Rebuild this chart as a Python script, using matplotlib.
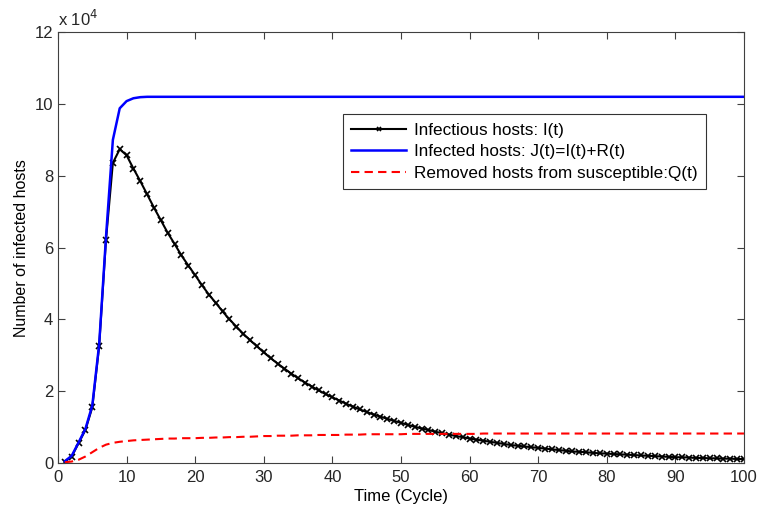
import matplotlib
matplotlib.use('Agg')
import matplotlib.pyplot as plt
import numpy as np

# values are in units of 10^4 hosts, one value per cycle t = 1..100
cycles = np.arange(1, 101)

infectious = [
    0.04, 0.18, 0.55, 0.92, 1.55, 3.25, 6.22, 8.36, 8.74, 8.57,
    8.20, 7.85, 7.48, 7.11, 6.76, 6.41, 6.10, 5.78, 5.50, 5.23,
    4.95, 4.69, 4.46, 4.22, 4.00, 3.80, 3.60, 3.42, 3.25, 3.08,
    2.92, 2.77, 2.63, 2.49, 2.36, 2.24, 2.13, 2.02, 1.92, 1.83,
    1.74, 1.65, 1.57, 1.49, 1.42, 1.35, 1.29, 1.23, 1.17, 1.12,
    1.06, 1.01, 0.96, 0.92, 0.87, 0.83, 0.79, 0.75, 0.72, 0.68,
    0.65, 0.62, 0.59, 0.56, 0.53, 0.50, 0.48, 0.46, 0.44, 0.42,
    0.40, 0.38, 0.36, 0.34, 0.32, 0.31, 0.30, 0.28, 0.27, 0.26,
    0.25, 0.24, 0.23, 0.22, 0.21, 0.20, 0.19, 0.18, 0.17, 0.16,
    0.16, 0.15, 0.14, 0.14, 0.13, 0.13, 0.12, 0.12, 0.11, 0.11,
]

infected = [
    0.05, 0.20, 0.57, 0.95, 1.60, 3.30, 6.30, 9.00, 9.88, 10.08,
    10.16, 10.19, 10.20, 10.20, 10.20, 10.20, 10.20, 10.20, 10.20, 10.20,
    10.20, 10.20, 10.20, 10.20, 10.20, 10.20, 10.20, 10.20, 10.20, 10.20,
    10.20, 10.20, 10.20, 10.20, 10.20, 10.20, 10.20, 10.20, 10.20, 10.20,
    10.20, 10.20, 10.20, 10.20, 10.20, 10.20, 10.20, 10.20, 10.20, 10.20,
    10.20, 10.20, 10.20, 10.20, 10.20, 10.20, 10.20, 10.20, 10.20, 10.20,
    10.20, 10.20, 10.20, 10.20, 10.20, 10.20, 10.20, 10.20, 10.20, 10.20,
    10.20, 10.20, 10.20, 10.20, 10.20, 10.20, 10.20, 10.20, 10.20, 10.20,
    10.20, 10.20, 10.20, 10.20, 10.20, 10.20, 10.20, 10.20, 10.20, 10.20,
    10.20, 10.20, 10.20, 10.20, 10.20, 10.20, 10.20, 10.20, 10.20, 10.20,
]

removed = [
    0.02, 0.04, 0.09, 0.18, 0.30, 0.42, 0.51, 0.56, 0.59, 0.61,
    0.63, 0.64, 0.65, 0.66, 0.67, 0.68, 0.68, 0.69, 0.69, 0.69,
    0.70, 0.70, 0.71, 0.71, 0.72, 0.72, 0.73, 0.73, 0.74, 0.75,
    0.75, 0.76, 0.76, 0.76, 0.77, 0.77, 0.77, 0.78, 0.78, 0.78,
    0.78, 0.79, 0.79, 0.79, 0.80, 0.80, 0.80, 0.80, 0.80, 0.80,
    0.81, 0.81, 0.81, 0.81, 0.81, 0.81, 0.81, 0.81, 0.81, 0.81,
    0.81, 0.82, 0.82, 0.82, 0.82, 0.82, 0.82, 0.82, 0.82, 0.82,
    0.82, 0.82, 0.82, 0.82, 0.82, 0.82, 0.82, 0.82, 0.82, 0.82,
    0.82, 0.82, 0.82, 0.82, 0.82, 0.82, 0.82, 0.82, 0.82, 0.82,
    0.82, 0.82, 0.82, 0.82, 0.82, 0.82, 0.82, 0.82, 0.82, 0.82,
]

labels = ['Infectious hosts: I(t)',
          'Infected hosts: J(t)=I(t)+R(t)',
          'Removed hosts from susceptible:Q(t)']

plt.rcParams['font.family'] = ['Liberation Sans', 'DejaVu Sans']
fs = 12

fig = plt.figure(figsize=(7.6, 5.11), dpi=100)
ax = fig.add_axes([0.0763, 0.094, 0.9026, 0.843])

ax.plot(cycles, infectious, color='black', lw=1.5, marker='x',
        ms=4, mew=1.2, label=labels[0])
ax.plot(cycles, infected, color='blue', lw=1.8, label=labels[1])
ax.plot(cycles, removed, color='red', lw=1.5, ls=(0, (4, 2.5)), label=labels[2])

ax.set_xlim(0, 100)
ax.set_ylim(0, 12)
ax.set_xticks(np.arange(0, 101, 10))
ax.set_yticks(np.arange(0, 13, 2))
ax.tick_params(direction='in', top=True, right=True, length=5,
               labelsize=fs, color='#404040', labelcolor='#262626')
ax.tick_params(axis='x', pad=5)
for s in ax.spines.values():
    s.set_color('#404040')

ax.text(0.0, 1.008, r'x 10$^{4}$', transform=ax.transAxes,
        fontsize=fs, color='#262626', ha='left', va='bottom')

ax.set_xlabel('Time (Cycle)', fontsize=fs, labelpad=3)
ax.set_ylabel('Number of infected hosts', fontsize=11.5, labelpad=4)

leg = ax.legend(loc='upper left', bbox_to_anchor=(0.415, 0.81),
                fontsize=12.3, handlelength=3.2, frameon=True, fancybox=False,
                borderpad=0.5, labelspacing=0.38, handletextpad=0.45,
                borderaxespad=0)
leg.get_frame().set_edgecolor('black')
leg.get_frame().set_linewidth(0.8)
for h in leg.get_lines():
    h.set_markersize(3)

fig.savefig('out.png', dpi=100)
plt.close(fig)
